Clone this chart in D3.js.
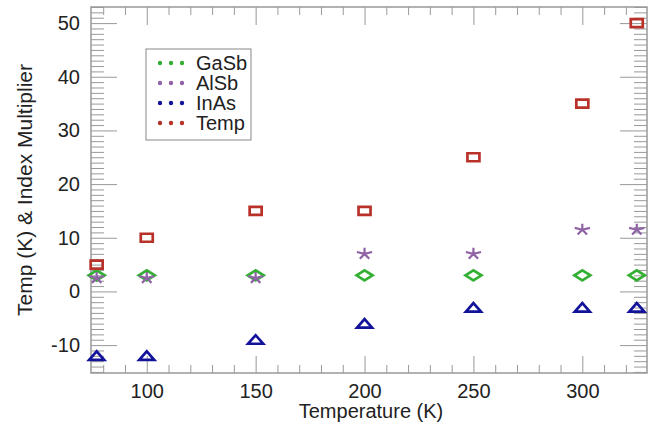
<!DOCTYPE html>
<html>
<head>
    <meta charset="utf-8">
    <style>
        body { margin: 0; background: #fff; }
        svg { display: block; font-family: "Liberation Sans", Arial, sans-serif; }
        .frame { fill: none; stroke: #999; stroke-width: 1.5px; }
        .axis path { display: none; }
        .axis line { stroke: #999; stroke-width: 1px; }
        .axis text { font-size: 20px; fill: #222; font-family: "Liberation Sans", Arial, sans-serif; }
        .title { font-size: 20px; fill: #222; }
        .legend-box { fill: #fff; stroke: #888; stroke-width: 1px; }
        .legend-text { font-size: 20px; fill: #222; }
    </style>
    <script src="https://d3js.org/d3.v7.min.js"></script>
</head>
<body>
    <svg width="655" height="428"></svg>
    <script>
        // data
        const temps = [77, 100, 150, 200, 250, 300, 325];
        const gasb = [3, 3, 3, 3, 3, 3, 3];
        const alsb = [2.5, 2.5, 2.5, 7, 7, 11.5, 11.5];
        const inas = [-12, -12, -9, -6, -3, -3, -3];
        const tempK = [5, 10, 15, 15, 25, 35, 50];
        const seriesNames = ["GaSb", "AlSb", "InAs", "Temp"];
        const xMajor = [100, 150, 200, 250, 300];
        const yMajor = [-10, 0, 10, 20, 30, 40, 50];

        const colors = { GaSb: "#33b033", AlSb: "#9063a6", InAs: "#12129a", Temp: "#b8322a" };

        const svg = d3.select("svg");
        const plotL = 91, plotR = 647, plotT = 7, plotB = 373;

        const x = d3.scaleLinear().domain([74.4, 329.7]).range([plotL, plotR]);
        const y = d3.scaleLinear().domain([-15.2, 53]).range([plotB, plotT]);

        const xMinor = d3.range(80, 330, 10).filter(v => !xMajor.includes(v));
        const yMinor = d3.range(-15, 54, 1).filter(v => v % 10 !== 0);
        const plain = d => String(d);

        // minor ticks
        svg.append("g").attr("class", "axis").attr("transform", `translate(0,${plotB})`)
            .call(d3.axisBottom(x).tickValues(xMinor).tickSize(-8).tickFormat(""));
        svg.append("g").attr("class", "axis").attr("transform", `translate(0,${plotT})`)
            .call(d3.axisTop(x).tickValues(xMinor).tickSize(-8).tickFormat(""));
        svg.append("g").attr("class", "axis").attr("transform", `translate(${plotL},0)`)
            .call(d3.axisLeft(y).tickValues(yMinor).tickSize(-13).tickFormat(""));
        svg.append("g").attr("class", "axis").attr("transform", `translate(${plotR},0)`)
            .call(d3.axisRight(y).tickValues(yMinor).tickSize(-13).tickFormat(""));

        // major ticks
        svg.append("g").attr("class", "axis").attr("transform", `translate(0,${plotB})`)
            .call(d3.axisBottom(x).tickValues(xMajor).tickSize(-17).tickPadding(11).tickFormat(plain));
        svg.append("g").attr("class", "axis").attr("transform", `translate(0,${plotT})`)
            .call(d3.axisTop(x).tickValues(xMajor).tickSize(-18).tickFormat(""));
        svg.append("g").attr("class", "axis").attr("transform", `translate(${plotL},0)`)
            .call(d3.axisLeft(y).tickValues(yMajor).tickSize(-26).tickPadding(11).tickFormat(plain));
        svg.append("g").attr("class", "axis").attr("transform", `translate(${plotR},0)`)
            .call(d3.axisRight(y).tickValues(yMajor).tickSize(-27).tickFormat(""));

        svg.append("rect").attr("class", "frame")
            .attr("x", plotL).attr("y", plotT).attr("width", plotR - plotL).attr("height", plotB - plotT);

        // axis titles
        svg.append("text").attr("class", "title")
            .attr("x", (plotL + plotR) / 2 + 2).attr("y", 418)
            .attr("text-anchor", "middle")
            .text("Temperature (K)");
        svg.append("text").attr("class", "title")
            .attr("transform", "translate(32,190) rotate(-90)")
            .attr("text-anchor", "middle")
            .style("font-size", "21px")
            .text("Temp (K) & Index Multiplier");

        // marker shapes
        const starPath = d3.range(5).map(i => {
            const a = (-90 + i * 72) * Math.PI / 180;
            return `M0,0L${(8 * Math.cos(a)).toFixed(2)},${(6 * Math.sin(a)).toFixed(2)}`;
        }).join("");
        const shapes = {
            GaSb: "M-8,0L0,-5L8,0L0,5Z",
            AlSb: starPath,
            InAs: "M-7.5,4L0,-4.5L7.5,4Z",
            Temp: "M-6,-4H6V4H-6Z"
        };
        const values = { GaSb: gasb, AlSb: alsb, InAs: inas, Temp: tempK };

        seriesNames.forEach(name => {
            const pts = temps.map((t, i) => ({ t: t, v: values[name][i] }));
            svg.append("g").selectAll("path")
                .data(pts)
                .enter()
                .append("path")
                .attr("transform", d => `translate(${x(d.t)},${y(d.v)})`)
                .attr("d", shapes[name])
                .attr("fill", "none")
                .attr("stroke", colors[name])
                .attr("stroke-width", name === "AlSb" ? 2.2 : 2.7)
                .attr("stroke-linejoin", "miter");
        });

        // legend
        const legend = svg.append("g");
        legend.append("rect").attr("class", "legend-box")
            .attr("x", 146).attr("y", 49).attr("width", 105).attr("height", 91);
        seriesNames.forEach((name, i) => {
            const cy = 63 + i * 20;
            legend.selectAll(null)
                .data([0, 1, 2])
                .enter()
                .append("circle")
                .attr("cx", d => 160 + d * 11)
                .attr("cy", cy)
                .attr("r", 2.2)
                .attr("fill", colors[name]);
            legend.append("text").attr("class", "legend-text")
                .attr("x", 196).attr("y", cy + 7)
                .text(name);
        });
    </script>
</body>
</html>
